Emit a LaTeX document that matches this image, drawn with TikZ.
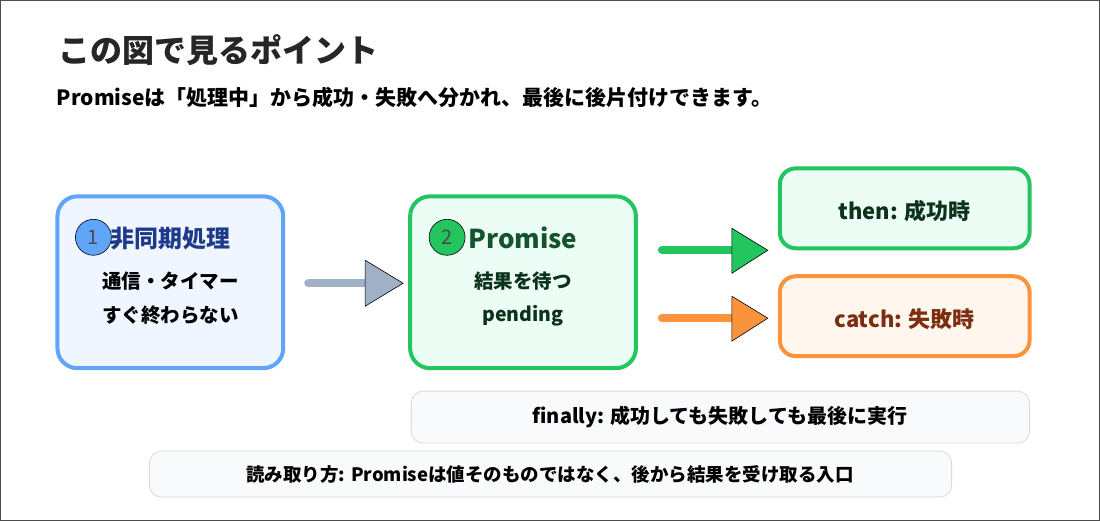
\documentclass[tikz,border=0pt]{standalone}
\usepackage{fontspec}
\setmainfont{Noto Sans CJK JP}
\newfontfamily\medfont{Noto Sans CJK JP Medium}
\begin{document}
\begin{tikzpicture}[x=1pt,y=-1pt,
  num/.style={circle,draw=black,line width=0.6pt,minimum size=36pt,inner sep=0pt,font=\fontsize{20}{20}\selectfont,text=black!70},
  bar/.style={line width=8pt,line cap=round},
  tip/.style={draw=black,line width=0.6pt},
  notebox/.style={draw=black!15,fill=slate,line width=0.8pt,rounded corners=12pt}]
\definecolor{blu}{HTML}{60A5FA}\definecolor{blufill}{HTML}{EFF6FF}
\definecolor{grn}{HTML}{22C55E}\definecolor{grnfill}{HTML}{ECFDF5}
\definecolor{org}{HTML}{FB923C}\definecolor{orgfill}{HTML}{FFF7ED}
\definecolor{slate}{HTML}{F8FAFC}\definecolor{gry}{HTML}{A0B0C5}
\definecolor{navy}{HTML}{1E3A8A}\definecolor{dkgrn}{HTML}{14532D}\definecolor{dkorg}{HTML}{7C2D12}
\draw[black!70,line width=1pt,fill=white] (0,0) rectangle (1100,520);
\node[anchor=west,font=\bfseries\fontsize{32}{36}\selectfont,text=black!85] (t) at (55,50) {この図で見るポイント};
\node[anchor=west,font=\bfseries\fontsize{21}{24}\selectfont] (s) at (53,97) {Promiseは「処理中」から成功・失敗へ分かれ、最後に後片付けできます。};
% box1
\draw[blu,fill=blufill,line width=4pt,rounded corners=20pt] (57,196) rectangle (283,368);
\node[num,fill=blu] (n1) at (93,237) {1};
\node[font=\bfseries\fontsize{24}{26}\selectfont,text=navy] (a1) at (170,238) {非同期処理};
\node[font=\bfseries\fontsize{19.5}{22}\selectfont] (a2) at (170,281) {通信・タイマー};
\node[font=\bfseries\fontsize{19.5}{22}\selectfont] (a3) at (170,315) {すぐ終わらない};
% box2
\draw[grn,fill=grnfill,line width=4pt,rounded corners=20pt] (410,196) rectangle (636,368);
\node[num,fill=grn] (n2) at (447,237) {2};
\node[font=\bfseries\fontsize{26}{28}\selectfont,text=dkgrn] (b1) at (523,238) {Promise};
\node[font=\bfseries\fontsize{19.5}{22}\selectfont,text=dkgrn!60!black] (b2) at (523,281) {結果を待つ};
\node[font=\bfseries\fontsize{19.5}{22}\selectfont,text=dkgrn!60!black] (b3) at (523,316) {pending};
% arrows
\draw[bar,gry] (308,283) -- (366,283);
\draw[tip,fill=gry] (365,260) -- (403,283) -- (365,306) -- cycle;
\draw[bar,grn] (662,250) -- (733,250);
\draw[tip,fill=grn] (732,228) -- (768,250) -- (732,273) -- cycle;
\draw[bar,org] (662,318) -- (733,318);
\draw[tip,fill=org] (732,296) -- (768,318) -- (732,341) -- cycle;
% then / catch
\draw[grn,fill=grnfill,line width=4pt,rounded corners=16pt] (780,168) rectangle (1030,248);
\node[font=\bfseries\fontsize{22}{26}\selectfont,text=dkgrn!60!black] (c1) at (905,211) {then: 成功時};
\draw[org,fill=orgfill,line width=4pt,rounded corners=16pt] (780,276) rectangle (1030,356);
\node[font=\bfseries\fontsize{22}{26}\selectfont,text=dkorg] (c2) at (905,319) {catch: 失敗時};
% notes
\draw[notebox] (411,391) rectangle (1030,443);
\node[font=\bfseries\fontsize{20}{22}\selectfont] (f) at (720,417) {finally: 成功しても失敗しても最後に実行};
\draw[notebox] (149,451) rectangle (952,497);
\node[font=\bfseries\fontsize{18.5}{20}\selectfont] (r) at (550,474) {読み取り方: Promiseは値そのものではなく、後から結果を受け取る入口};
\end{tikzpicture}
\end{document}
